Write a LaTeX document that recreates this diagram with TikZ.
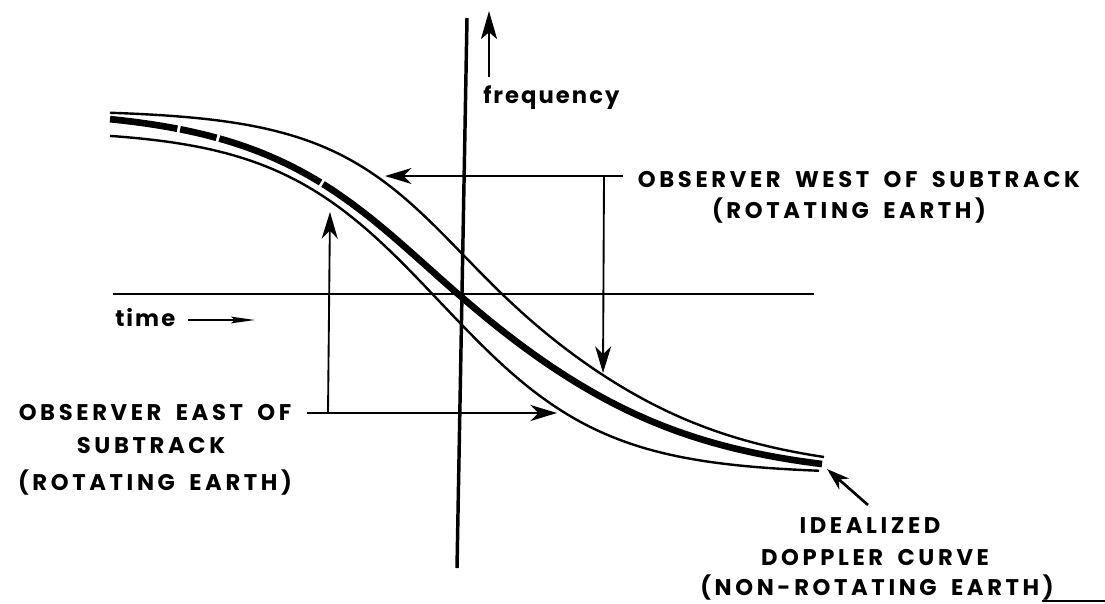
\documentclass[tikz,border=0pt]{standalone}
\usepackage{fontspec}
\setmainfont{Poppins}
\newfontfamily\labfont{Poppins}[LetterSpace=16, WordSpace=1.7]
\newfontfamily\lcfont{Poppins}[LetterSpace=9]
\usetikzlibrary{arrows.meta}
\tikzset{
  axisv/.style={line width=2.6pt},
  axish/.style={line width=1.9pt},
  thinc/.style={line width=1.8pt, line join=round},
  thickc/.style={line width=5pt, line join=round},
  obs/.style={line width=1.4pt},
  obsarrow/.style={obs, -{Stealth[length=20pt,width=12pt,inset=6pt]}},
  freqarrow/.style={line width=1.6pt, -{Stealth[length=21pt,width=12pt,inset=5pt]}},
  timearrow/.style={line width=1.4pt, -{Stealth[length=18pt,width=5pt,inset=3pt]}},
  ptrarrow/.style={line width=2pt, -{Stealth[length=17pt,width=11pt,inset=5pt]}},
  caps/.style={font=\labfont\bfseries\fontsize{17}{24}\selectfont, inner sep=0pt, anchor=base},
  lc/.style={font=\lcfont\bfseries\fontsize{17}{24}\selectfont, inner sep=0pt, anchor=base west},
}
\begin{document}
\begin{tikzpicture}[x=0.75pt,y=-0.75pt]
\useasboundingbox (0,0) rectangle (1105,603);

% coordinates
\coordinate (vtop) at (467,18);
\coordinate (vbot) at (457,568);
\coordinate (hL) at (113,294);
\coordinate (hR) at (814,294);
\coordinate (fb) at (489,77);
\coordinate (ft) at (489,11);
\coordinate (wE) at (623,176);
\coordinate (wTip) at (385,176);
\coordinate (wV) at (604,176);
\coordinate (wVtip) at (603,373);
\coordinate (eW) at (307,413);
\coordinate (eTip) at (557,413);
\coordinate (eV) at (328,413);
\coordinate (eVtip) at (330,212);
\coordinate (pT) at (868,505);
\coordinate (pH) at (827,469);
\coordinate (ta) at (188,320);
\coordinate (tb) at (255,320);
\coordinate (u1) at (1042,601);
\coordinate (u2) at (1105,601);

% axes
\draw[axisv] (vtop) -- (vbot);
\draw[axish] (hL) -- (hR);

% curves
\draw[thinc] plot[domain=110:824, samples=100, variable=\x]
  (\x, {292+182*tanh((\x-500)/(187.5+27.5*tanh((\x-500)/100)))});
\draw[thickc, dash pattern=on 51pt off 2.2pt on 28pt off 2.2pt on 83pt off 2.2pt on 2000pt off 1pt]
  plot[domain=110:822, samples=100, variable=\x]
  (\x, {294+185*tanh((\x-458)/(212.5+17.5*tanh((\x-458)/100)))});
\draw[thinc] plot[domain=110:819, samples=100, variable=\x]
  (\x, {302+172*tanh((\x-440)/163)});

% frequency arrow and label
\draw[freqarrow] (fb) -- (ft);
\node[lc] (freq) at (483,103) {frequency};

% time label and arrow
\node[lc] (time) at (115,326) {time};
\draw[timearrow] (ta) -- (tb);

% observer west
\draw[obsarrow] (wE) -- (wTip);
\draw[obsarrow] (wV) -- (wVtip);
\node[caps] (west1) at (859,187) {OBSERVER WEST OF SUBTRACK};
\node[caps] (west2) at (849,218) {(ROTATING EARTH)};

% observer east
\draw[obsarrow] (eW) -- (eTip);
\draw[obsarrow] (eV) -- (eVtip);
\node[caps] (east1) at (155,420) {OBSERVER EAST OF};
\node[caps] (east2) at (151,453) {SUBTRACK};
\node[caps] (east3) at (155,490) {(ROTATING EARTH)};

% idealized
\draw[ptrarrow] (pT) -- (pH);
\node[caps] (ideal1) at (870,533) {IDEALIZED};
\node[caps] (ideal2) at (875,565) {DOPPLER CURVE};
\node[caps] (ideal3) at (877,595) {(NON-ROTATING EARTH)};
\draw[line width=1.2pt] (u1) -- (u2);
\end{tikzpicture}
\end{document}
